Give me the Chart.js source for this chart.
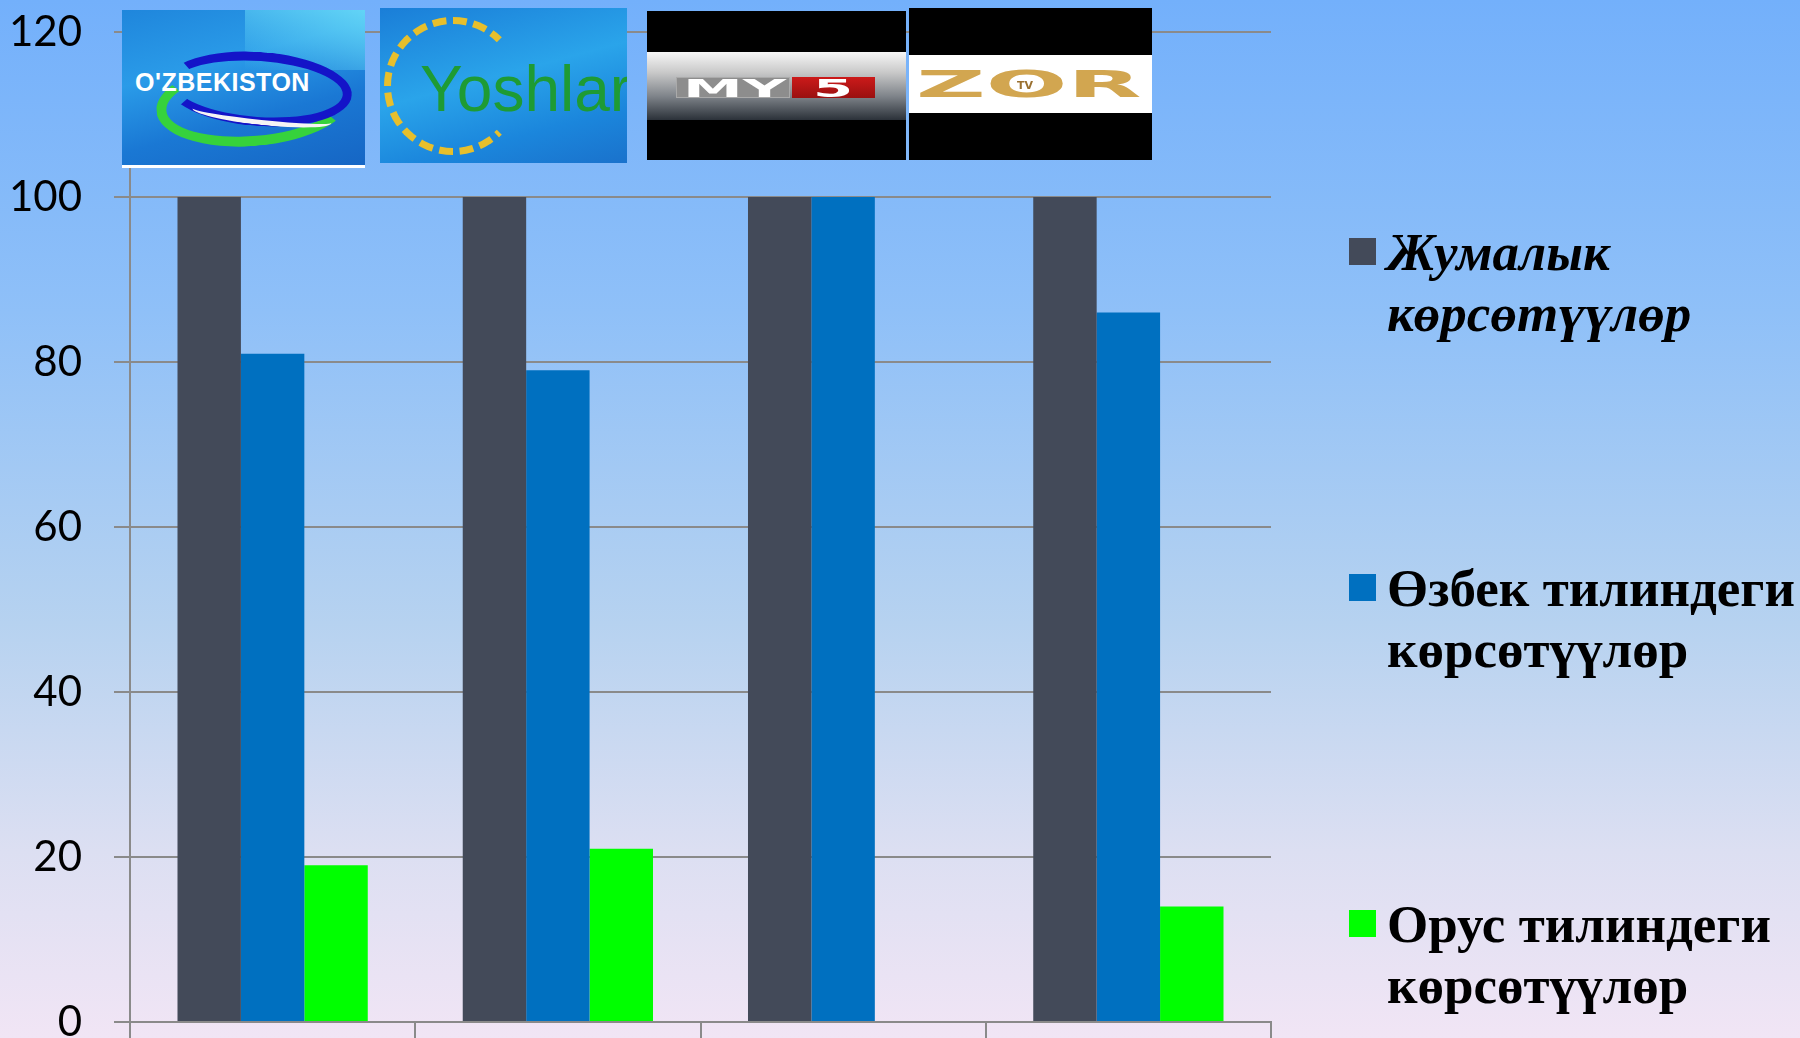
<!DOCTYPE html>
<html>
<head>
<meta charset="utf-8">
<script src="https://cdn.jsdelivr.net/npm/chart.js@4.4.1/dist/chart.umd.min.js"></script>
<style>
  html, body { margin: 0; padding: 0; }
  body {
    width: 1800px; height: 1038px; overflow: hidden; position: relative;
    background: linear-gradient(to bottom, #73b0fb 0%, #8fc0f8 30%, #b6d2f0 60%, #dcdff2 82%, #f1e5f5 100%);
  }
  #chart { position: absolute; left: 0; top: 0; }
  .logo { position: absolute; overflow: hidden; }
  .wide { position: absolute; transform-origin: left top; white-space: nowrap; }
  .legend-item { position: absolute; left: 1349px; }
  .legend-box { position: absolute; left: 0; width: 27px; height: 27px; }
  .legend-text {
    position: absolute; left: 38px; white-space: nowrap;
    font-family: "Liberation Serif", "DejaVu Serif", serif; font-weight: bold;
    font-size: 53px; line-height: 61px; color: #000;
  }
</style>
</head>
<body>
<canvas id="chart" width="1800" height="1038"></canvas>

<!-- логотипы каналов над графиком -->
<div class="logo" style="left:122px;top:10px;width:243px;height:158px;background:linear-gradient(165deg,#1f86dc 0%,#2a9be8 35%,#1a78d4 65%,#1666c4 100%);border-bottom:3px solid #fff;box-sizing:border-box;">
  <div style="position:absolute;right:0;top:0;width:120px;height:60px;background:linear-gradient(200deg,#62d4f6,rgba(98,212,246,0));"></div>
  <div style="position:absolute;left:34px;top:50px;width:176px;height:66px;border-radius:50%;border:10px solid transparent;border-bottom-color:#36d23c;border-left-color:#36d23c;transform:rotate(-5deg);"></div>
  <div style="position:absolute;left:44px;top:42px;width:168px;height:56px;border-radius:50%;border:9px solid transparent;border-top-color:#1414c8;border-right-color:#1414c8;border-bottom-color:#1414c8;transform:rotate(4deg);"></div>
  <div style="position:absolute;left:70px;top:96px;width:140px;height:14px;border-radius:50%;border-bottom:5px solid #f4f4f4;transform:rotate(6deg);"></div>
  <div style="position:absolute;left:13px;top:58px;font:bold 25px 'Liberation Sans',Arial,sans-serif;color:#fff;letter-spacing:0.5px;">O'ZBEKISTON</div>
</div>

<div class="logo" style="left:380px;top:8px;width:247px;height:155px;background:linear-gradient(165deg,#1a7ed8 0%,#2aa4ea 45%,#1b86dc 75%,#1a72cc 100%);">
  <div style="position:absolute;left:4px;top:9px;width:124px;height:124px;border-radius:50%;border:7px dashed #e7bf2c;border-right-color:transparent;"></div>
  <div style="position:absolute;left:40px;top:44px;font:64px 'Liberation Sans',Arial,sans-serif;color:#1e9b34;">Yoshlar</div>
</div>

<div class="logo" style="left:647px;top:11px;width:259px;height:149px;background:#000;">
  <div style="position:absolute;left:0;top:41px;width:259px;height:68px;background:linear-gradient(to bottom,#f6f6f6 0%,#c9c9c9 30%,#7f848a 65%,#2b3139 100%);"></div>
  <div style="position:absolute;left:29px;top:66px;width:114px;height:21px;border:1px solid #aaa;background:#8d8d8d;box-sizing:border-box;"></div>
  <div class="wide" style="left:36px;top:64px;font:bold 24px 'DejaVu Sans',sans-serif;color:#fff;transform:scaleX(2.5);">MY</div>
  <div style="position:absolute;left:145px;top:66px;width:83px;height:21px;background:linear-gradient(#cc1a1a,#9a1010);"></div>
  <div class="wide" style="left:166px;top:64px;font:bold 24px 'DejaVu Sans',sans-serif;color:#fff;transform:scaleX(2.4);">5</div>
</div>

<div class="logo" style="left:909px;top:8px;width:243px;height:152px;background:#000;">
  <div style="position:absolute;left:0;top:47px;width:243px;height:58px;background:#fff;"></div>
  <div class="wide" style="left:7px;top:55px;font:bold 37px 'DejaVu Sans',sans-serif;color:#d2a650;transform:scaleX(2.6);">ZOR</div>
  <div style="position:absolute;left:108px;top:71px;font:bold 11px 'DejaVu Sans',sans-serif;color:#9a7030;">TV</div>
</div>

<div id="legend"></div>

<script>
// Каналы и доли передач (%)
const channels = ["O'zbekiston", 'Yoshlar', 'MY5', "Zo'r TV"];
const seriesNames = ['Жумалык көрсөтүүлөр', 'Өзбек тилиндеги көрсөтүүлөр', 'Орус тилиндеги көрсөтүүлөр'];
const totalShows = [100, 100, 100, 100];
const uzbekShows = [81, 79, 100, 86];
const russianShows = [19, 21, 0, 14];
const seriesColors = ['#434a59', '#0070c0', '#00ff00'];
const yMin = 0, yMax = 120, yStep = 20;

const gridColor = '#8a8a8a';

const chart = new Chart(document.getElementById('chart'), {
  type: 'bar',
  data: {
    labels: channels,
    datasets: [totalShows, uzbekShows, russianShows].map((vals, i) => ({
      label: seriesNames[i],
      data: vals,
      backgroundColor: seriesColors[i],
      borderWidth: 0,
      categoryPercentage: 0.667,
      barPercentage: 1.0
    }))
  },
  options: {
    responsive: false,
    animation: false,
    layout: { padding: { top: 32, right: 529, left: 0, bottom: 0 } },
    plugins: { legend: { display: false }, tooltip: { enabled: false } },
    scales: {
      x: {
        ticks: { display: false },
        grid: { offset: true, drawOnChartArea: false, drawTicks: true, tickLength: 16, color: gridColor, lineWidth: 2 },
        border: { color: gridColor, width: 2 },
        afterFit: s => { s.height = 16; s.paddingLeft = 0; s.paddingRight = 0; }
      },
      y: {
        min: yMin, max: yMax,
        ticks: { stepSize: yStep, color: '#000', padding: 32, font: { family: 'Lato', size: 42 } },
        grid: { color: gridColor, lineWidth: 2, tickLength: 16 },
        border: { color: gridColor, width: 2 },
        afterFit: s => { s.width = 130; s.paddingTop = 0; s.paddingBottom = 0; }
      }
    }
  }
});

// легенда справа, по две строки на серию
const legendTops = [238, 574, 910];
const legend = document.getElementById('legend');
chart.data.datasets.forEach((ds, i) => {
  const cut = ds.label.lastIndexOf(' ');
  const item = document.createElement('div');
  item.className = 'legend-item';
  item.style.top = legendTops[i] + 'px';
  item.innerHTML = `
    <div class="legend-box" style="background:${ds.backgroundColor}"></div>
    <div class="legend-text" style="top:-16px;${i === 0 ? 'font-style:italic;' : ''}">${ds.label.slice(0, cut)}<br>${ds.label.slice(cut + 1)}</div>
  `;
  legend.appendChild(item);
});
</script>
</body>
</html>
